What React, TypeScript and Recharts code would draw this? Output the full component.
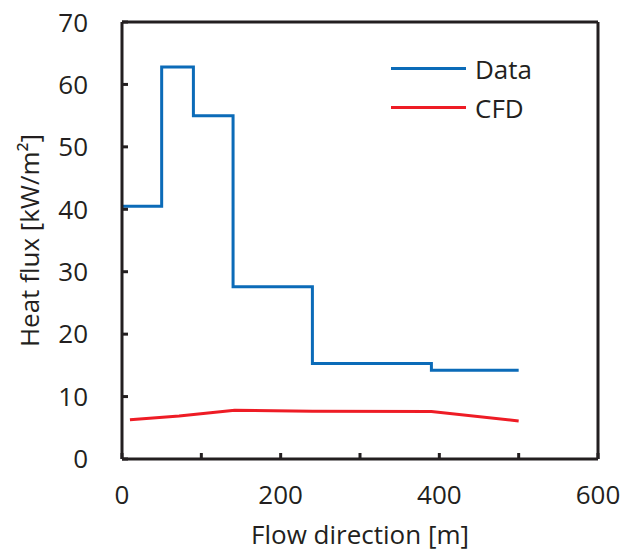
import { LineChart, Line, XAxis, YAxis, ReferenceLine } from 'recharts';

const DATA_X = [0, 50, 90, 140, 240, 390, 500];
const DATA_Y = [40.5, 62.8, 55.0, 27.6, 15.3, 14.2, 14.2];

const CFD_X = [10, 72, 142, 240, 390, 500];
const CFD_Y = [6.3, 6.9, 7.8, 7.65, 7.6, 6.1];

const X_TICKS = [0, 100, 200, 300, 400, 500, 600];
const Y_TICKS = [0, 10, 20, 30, 40, 50, 60, 70];

const SERIES_NAMES = ['Data', 'CFD'];
const BLUE = '#0b6bb8';
const RED = '#ee1c25';
const INK = '#231f20';
const FONT = '"Open Sans", Lato, sans-serif';
const FS = 26;

const dataSeries = DATA_X.map((x, i) => ({ x, y: DATA_Y[i] }));
const cfdSeries = CFD_X.map((x, i) => ({ x, y: CFD_Y[i] }));

function LegendBox() {
  const colors = [BLUE, RED];
  return (
    <div style={{ position: 'absolute', left: 383, top: 41, fontFamily: FONT, fontSize: FS, color: INK }}>
      {SERIES_NAMES.map((name, i) => (
        <div key={name} style={{ display: 'flex', alignItems: 'center', height: 39 }}>
          <div style={{ width: 75, height: 3, background: colors[i], marginRight: 9 }} />
          <span>{name}</span>
        </div>
      ))}
    </div>
  );
}

export default function App() {
  const tickStyle = { fill: INK, fontSize: FS, fontFamily: FONT };
  return (
    <div style={{ position: 'relative', width: 619, height: 545 }}>
      <LineChart width={619} height={545} margin={{ top: 14, right: 29, left: 0, bottom: 0 }}>
        <XAxis
          type="number"
          dataKey="x"
          domain={[0, 600]}
          ticks={X_TICKS}
          tickFormatter={(v: number) => (v % 200 === 0 ? String(v) : '')}
          height={94}
          tickSize={-6}
          tickMargin={33}
          stroke={INK}
          strokeWidth={3}
          tick={tickStyle}
          label={{ value: 'Flow direction [m]', position: 'insideBottom', offset: 9, style: { fill: INK, fontSize: FS, fontFamily: FONT } }}
        />
        <YAxis
          type="number"
          domain={[0, 70]}
          ticks={Y_TICKS}
          width={114}
          tickSize={-6}
          tickMargin={40}
          stroke={INK}
          strokeWidth={3}
          tick={tickStyle}
          label={{ value: 'Heat flux [kW/m²]', angle: -90, position: 'insideLeft', offset: 22, style: { textAnchor: 'middle', fill: INK, fontSize: FS, fontFamily: FONT } }}
        />
        <ReferenceLine y={70} stroke={INK} strokeWidth={3} />
        <ReferenceLine x={600} stroke={INK} strokeWidth={3} />
        <Line
          data={dataSeries}
          dataKey="y"
          type="stepAfter"
          stroke={BLUE}
          strokeWidth={3}
          dot={false}
          isAnimationActive={false}
        />
        <Line
          data={cfdSeries}
          dataKey="y"
          type="linear"
          stroke={RED}
          strokeWidth={3}
          dot={false}
          isAnimationActive={false}
        />
      </LineChart>
      <LegendBox />
    </div>
  );
}
